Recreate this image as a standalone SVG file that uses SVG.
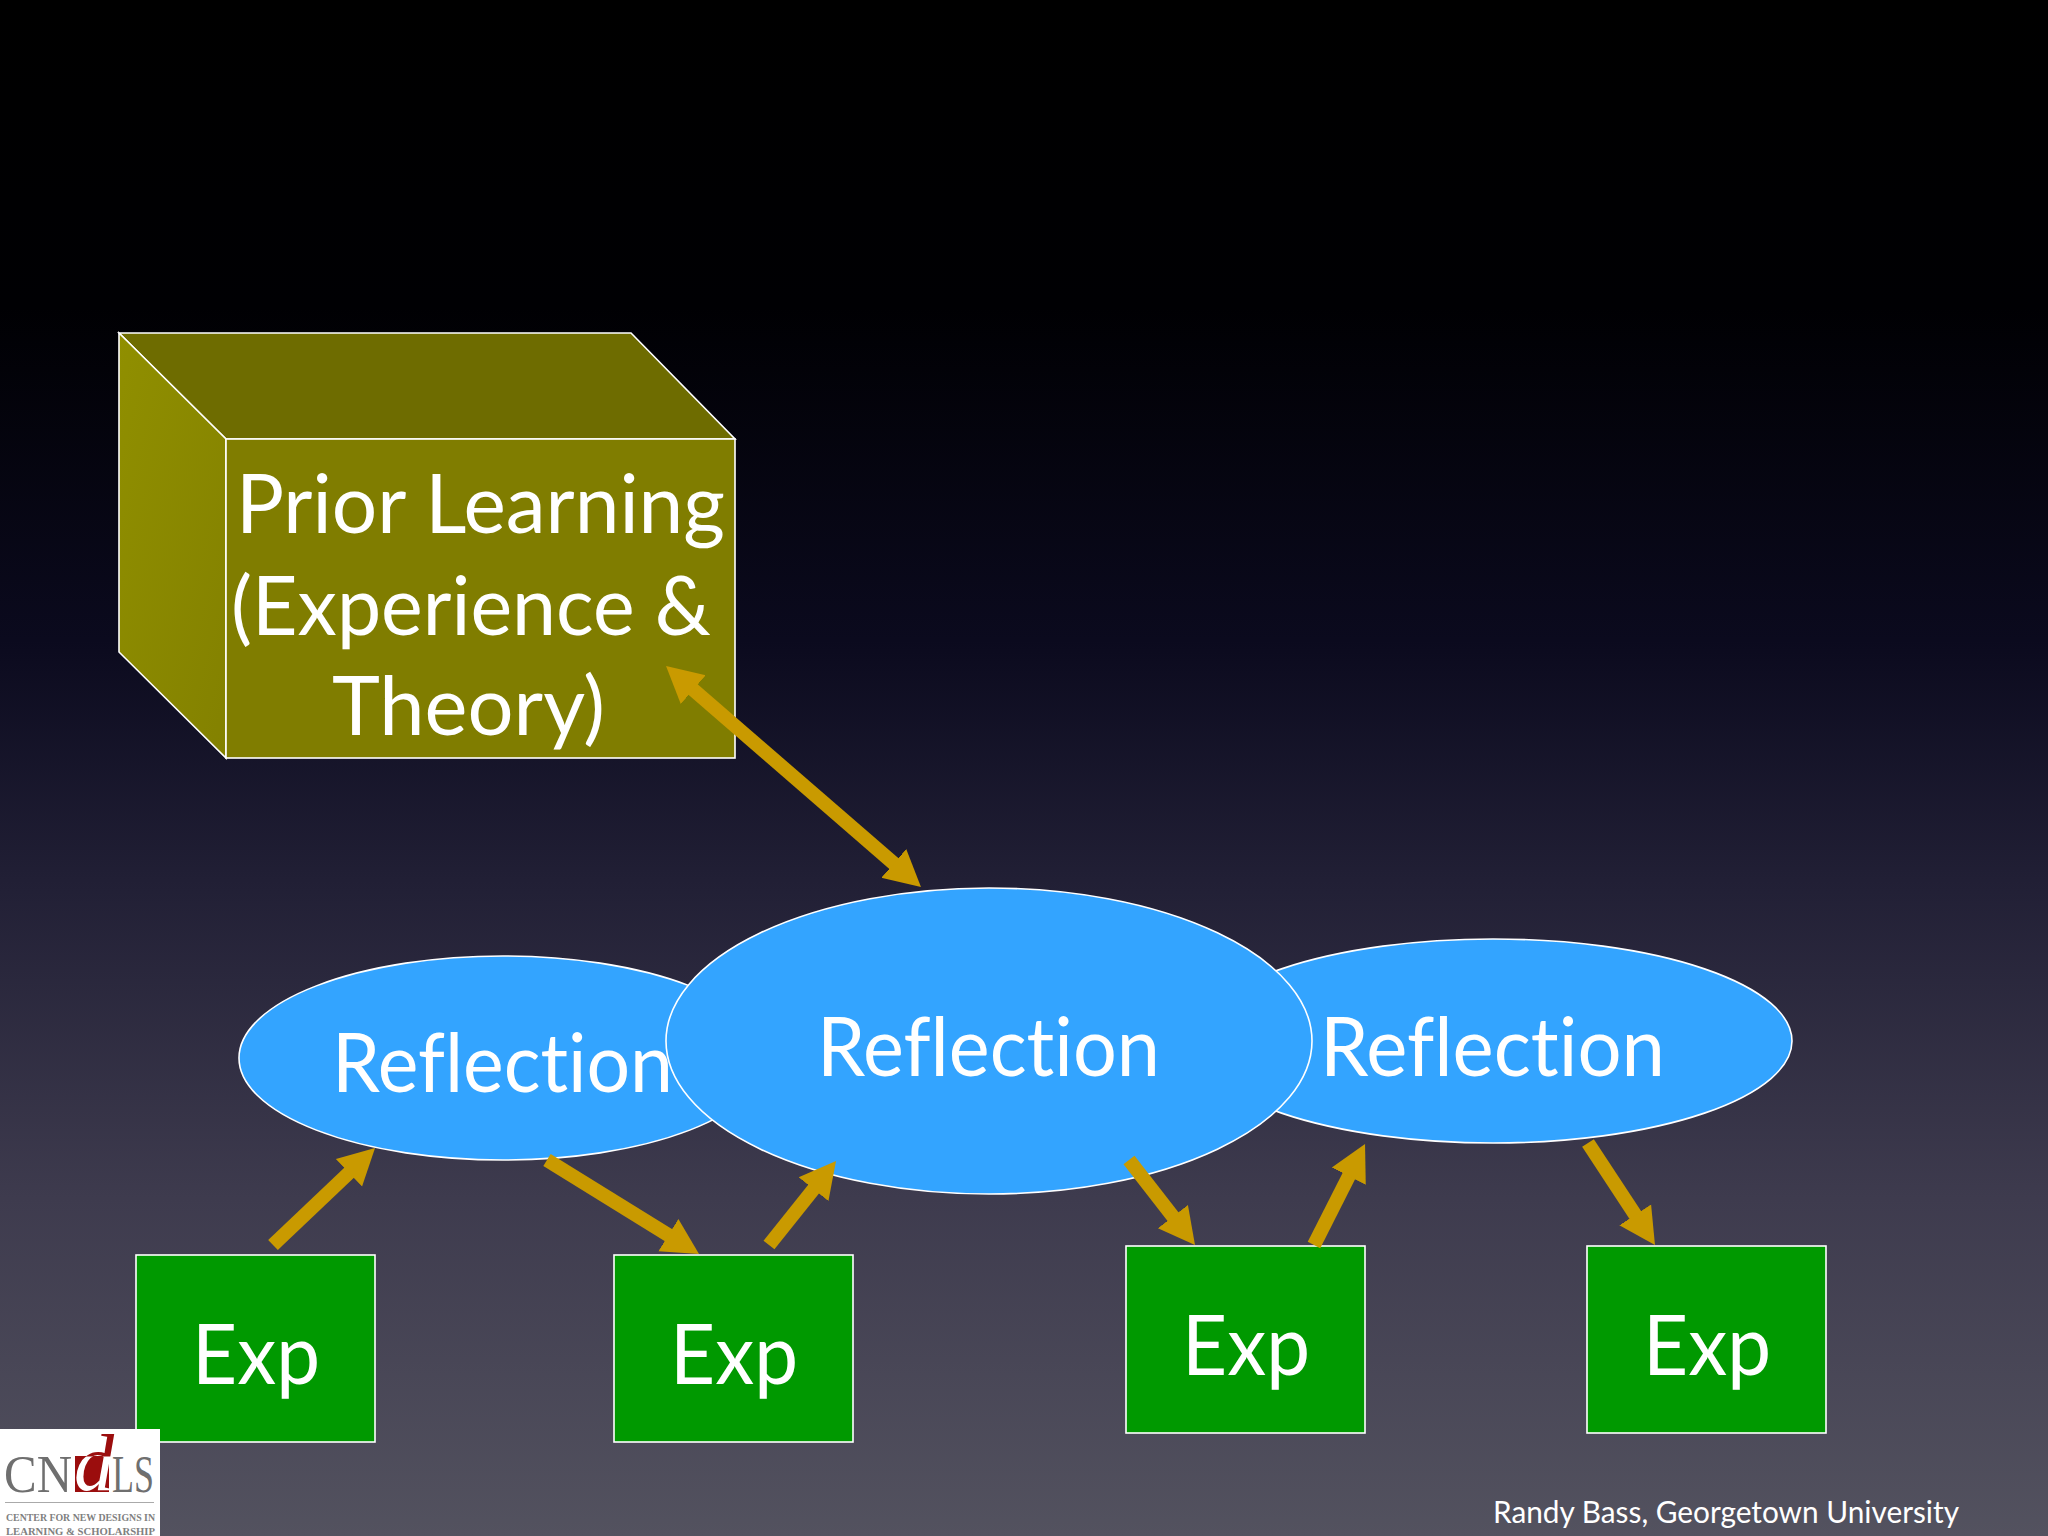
<svg xmlns="http://www.w3.org/2000/svg" width="2048" height="1536" viewBox="0 0 2048 1536">
<style>
.s{stroke:#fff;stroke-width:1.6}
.t{font-family:Lato,"Open Sans",sans-serif;fill:#fff;font-size:81px;font-variant-ligatures:none}
.x{font-size:84px}
.exp{fill:#009900}
.ell{fill:#33a4ff}
.arr{stroke:#c99a00;stroke-width:14;fill:none;marker-end:url(#h)}
.lg{font-family:"Liberation Serif",serif;fill:#6f6f6f;font-size:53px}
.sm{font-family:"Liberation Serif",serif;font-size:10.5px;font-weight:bold;fill:#808080}
</style>
<defs>
<linearGradient id="bg" x1="0" y1="0" x2="0" y2="1">
<stop offset="0" stop-color="#000"/><stop offset=".2" stop-color="#000003"/><stop offset=".417" stop-color="#0b0a1e"/><stop offset=".573" stop-color="#211f35"/><stop offset=".78" stop-color="#3e3b4e"/><stop offset="1" stop-color="#53525f"/>
</linearGradient>
<linearGradient id="side" x1="0" y1="0" x2="1" y2="1"><stop offset="0" stop-color="#908f00"/><stop offset="1" stop-color="#838100"/></linearGradient>
<linearGradient id="dg" gradientUnits="userSpaceOnUse" x1="0" y1="1456" x2="0" y2="1457"><stop offset="0" stop-color="#9b0d0d"/><stop offset="1" stop-color="#fff"/></linearGradient>
<marker id="h" markerUnits="userSpaceOnUse" markerWidth="38" markerHeight="40" refX="6" refY="20" orient="auto-start-reverse"><path d="M0 1L36 20L0 39Z" fill="#c99a00"/></marker>
</defs>
<rect width="2048" height="1536" fill="url(#bg)"/>
<g id="prior-learning">
<path class="s" d="M119 333H631L735 439H226Z" fill="#6e6c00"/>
<path class="s" d="M119 333L226 439V758L119 652Z" fill="url(#side)"/>
<rect class="s" x="226" y="439" width="509" height="319" fill="#807d00"/>
<text class="t" x="236" y="533" textLength="489" lengthAdjust="spacingAndGlyphs">Prior Learning</text>
<text class="t" x="231" y="635" textLength="480" lengthAdjust="spacingAndGlyphs">(Experience &amp;</text>
<text class="t" x="332" y="735" textLength="273" lengthAdjust="spacingAndGlyphs">Theory)</text>
</g>
<g id="reflection-left"><ellipse class="s ell" cx="503" cy="1058" rx="264" ry="102"/><text class="t" x="332" y="1092" textLength="341" lengthAdjust="spacingAndGlyphs">Reflection</text></g>
<g id="reflection-right"><ellipse class="s ell" cx="1493" cy="1041" rx="299" ry="102"/><text class="t" x="1320" y="1076" textLength="345" lengthAdjust="spacingAndGlyphs">Reflection</text></g>
<g id="reflection-center"><ellipse class="s ell" cx="989" cy="1041" rx="323" ry="153"/><text class="t" x="817" y="1076" textLength="343" lengthAdjust="spacingAndGlyphs">Reflection</text></g>
<g id="exp-1"><rect class="s exp" x="136" y="1255" width="239" height="187"/><text class="t x" x="192" y="1384" textLength="128" lengthAdjust="spacingAndGlyphs">Exp</text></g>
<g id="exp-2"><rect class="s exp" x="614" y="1255" width="239" height="187"/><text class="t x" x="670" y="1384" textLength="128" lengthAdjust="spacingAndGlyphs">Exp</text></g>
<g id="exp-3"><rect class="s exp" x="1126" y="1246" width="239" height="187"/><text class="t x" x="1182" y="1375" textLength="128" lengthAdjust="spacingAndGlyphs">Exp</text></g>
<g id="exp-4"><rect class="s exp" x="1587" y="1246" width="239" height="187"/><text class="t x" x="1643" y="1375" textLength="128" lengthAdjust="spacingAndGlyphs">Exp</text></g>
<g id="connectors">
<line x1="688.7" y1="685.7" x2="898.3" y2="867.4" stroke="#c99a00" stroke-width="14" marker-start="url(#h)" marker-end="url(#h)"/>
<line class="arr" x1="273" y1="1245" x2="353.3" y2="1168.7"/>
<line class="arr" x1="547" y1="1160" x2="673.5" y2="1238.2"/>
<line class="arr" x1="769" y1="1245" x2="817.3" y2="1184.5"/>
<line class="arr" x1="1129" y1="1160" x2="1176.6" y2="1221.3"/>
<line class="arr" x1="1314" y1="1245" x2="1351.5" y2="1170.8"/>
<line class="arr" x1="1588" y1="1143" x2="1638.5" y2="1219.9"/>
</g>
<g id="logo">
<rect x="0" y="1429" width="160" height="107" fill="#fff"/>
<text class="lg" x="4" y="1492" textLength="68" lengthAdjust="spacingAndGlyphs">CN</text>
<rect x="75" y="1456" width="34" height="36" fill="#9b0d0d"/>
<text x="74" y="1490" font-family="'Liberation Serif',serif" font-style="italic" font-size="80" fill="url(#dg)">d</text>
<text class="lg" x="112" y="1492" textLength="42" lengthAdjust="spacingAndGlyphs">LS</text>
<rect x="5" y="1502" width="149" height="1" fill="#aaa"/>
<text class="sm" x="6" y="1521" textLength="149" lengthAdjust="spacingAndGlyphs">CENTER FOR NEW DESIGNS IN</text>
<text class="sm" x="6" y="1535" textLength="149" lengthAdjust="spacingAndGlyphs">LEARNING &amp; SCHOLARSHIP</text>
</g>
<text id="credit" x="1493" y="1523" font-family="Lato,sans-serif" font-size="30" fill="#fff" textLength="466" lengthAdjust="spacingAndGlyphs">Randy Bass, Georgetown University</text>
</svg>
